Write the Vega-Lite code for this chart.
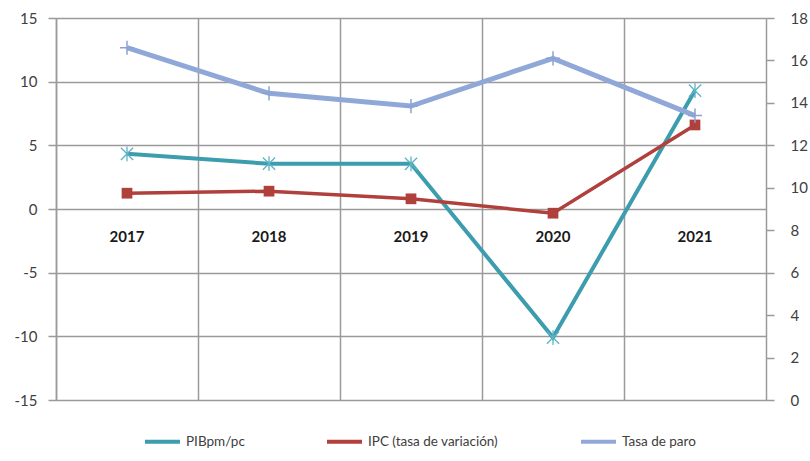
{
  "$schema": "https://vega.github.io/schema/vega-lite/v6.json",
  "width": 710,
  "height": 382,
  "autosize": "none",
  "padding": {"left": 56, "top": 18, "right": 44, "bottom": 61},
  "background": "white",
  "config": {
    "font": "Lato",
    "view": {"stroke": null},
    "axis": {
      "labelFont": "Lato",
      "labelFontSize": 15,
      "labelColor": "#404040",
      "domainColor": "#9a9a9a",
      "tickColor": "#9a9a9a",
      "gridColor": "#9a9a9a",
      "gridWidth": 1.5,
      "domainWidth": 1.5,
      "tickWidth": 1.5
    }
  },
  "data": {
    "values": [
      {"year": "2017", "serie": "PIBpm/pc", "value": 4.33},
      {"year": "2018", "serie": "PIBpm/pc", "value": 3.56},
      {"year": "2019", "serie": "PIBpm/pc", "value": 3.55},
      {"year": "2020", "serie": "PIBpm/pc", "value": -10.1},
      {"year": "2021", "serie": "PIBpm/pc", "value": 9.3},
      {"year": "2017", "serie": "IPC (tasa de variación)", "value": 1.24},
      {"year": "2018", "serie": "IPC (tasa de variación)", "value": 1.4},
      {"year": "2019", "serie": "IPC (tasa de variación)", "value": 0.8},
      {"year": "2020", "serie": "IPC (tasa de variación)", "value": -0.33},
      {"year": "2021", "serie": "IPC (tasa de variación)", "value": 6.6},
      {"year": "2017", "serie": "Tasa de paro", "value": 16.6},
      {"year": "2018", "serie": "Tasa de paro", "value": 14.45},
      {"year": "2019", "serie": "Tasa de paro", "value": 13.85},
      {"year": "2020", "serie": "Tasa de paro", "value": 16.1},
      {"year": "2021", "serie": "Tasa de paro", "value": 13.4}
    ]
  },
  "layer": [
    {
      "transform": [{"filter": "datum.serie !== 'Tasa de paro'"}],
      "encoding": {
        "x": {
          "field": "year",
          "type": "ordinal",
          "scale": {"type": "band", "paddingInner": 0, "paddingOuter": 0},
          "axis": {
            "orient": "bottom",
            "offset": -191,
            "domain": false,
            "ticks": false,
            "grid": false,
            "labelAngle": 0,
            "labelFontWeight": "bold",
            "labelColor": "#1a1a1a",
            "labelPadding": 20,
            "title": null
          }
        },
        "y": {
          "field": "value",
          "type": "quantitative",
          "scale": {"domain": [-15, 15], "nice": false, "zero": false},
          "axis": {
            "orient": "left",
            "values": [-15, -10, -5, 0, 5, 10, 15],
            "labelExpr": "'' + datum.value",
            "title": null,
            "grid": true,
            "tickSize": 8,
            "labelPadding": 11
          }
        }
      },
      "layer": [
        {
          "transform": [{"filter": "datum.serie === 'PIBpm/pc'"}],
          "mark": {"type": "line", "strokeWidth": 4},
          "encoding": {
            "color": {
              "field": "serie",
              "type": "nominal",
              "scale": {
                "domain": ["PIBpm/pc", "IPC (tasa de variación)", "Tasa de paro"],
                "range": ["#3C9DAE", "#B0403C", "#90A8D8"]
              },
              "legend": {
                "orient": "none",
                "legendX": 87,
                "legendY": 404,
                "direction": "horizontal",
                "title": null,
                "symbolType": "stroke",
                "symbolSize": 1225,
                "symbolStrokeWidth": 4,
                "labelFont": "Lato",
                "labelFontSize": 13.5,
                "labelColor": "#404040",
                "columnPadding": 74,
                "labelOffset": 4,
                "padding": 0
              }
            }
          }
        },
        {
          "transform": [{"filter": "datum.serie === 'IPC (tasa de variación)'"}],
          "mark": {"type": "line", "strokeWidth": 3.5},
          "encoding": {"color": {"field": "serie", "type": "nominal"}}
        },
        {
          "transform": [{"filter": "datum.serie === 'PIBpm/pc'"}],
          "mark": {
            "type": "point",
            "shape": "M-1,-1L1,1M-1,1L1,-1M0,-1.2L0,1.2",
            "size": 150,
            "filled": false,
            "strokeWidth": 1.3,
            "opacity": 1,
            "color": "#5DB3C4"
          }
        },
        {
          "transform": [{"filter": "datum.serie === 'IPC (tasa de variación)'"}],
          "mark": {
            "type": "point",
            "shape": "square",
            "size": 115,
            "filled": true,
            "opacity": 1,
            "color": "#B0403C"
          }
        }
      ]
    },
    {
      "transform": [{"filter": "datum.serie === 'Tasa de paro'"}],
      "encoding": {
        "x": {
          "field": "year",
          "type": "ordinal",
          "scale": {"type": "band", "paddingInner": 0, "paddingOuter": 0},
          "axis": {
            "orient": "bottom",
            "labels": false,
            "ticks": false,
            "domain": false,
            "grid": true,
            "bandPosition": 0,
            "title": null
          }
        },
        "y": {
          "field": "value",
          "type": "quantitative",
          "scale": {"domain": [0, 18], "nice": false, "zero": false},
          "axis": {
            "orient": "right",
            "values": [0, 2, 4, 6, 8, 10, 12, 14, 16, 18],
            "title": null,
            "grid": false,
            "tickSize": 8,
            "labelPadding": 16
          }
        }
      },
      "layer": [
        {
          "mark": {"type": "line", "strokeWidth": 5},
          "encoding": {"color": {"field": "serie", "type": "nominal"}}
        },
        {
          "mark": {
            "type": "point",
            "shape": "M-1,0H1M0,-1V1",
            "size": 200,
            "filled": false,
            "strokeWidth": 1.5,
            "opacity": 1,
            "color": "#8AA2D4"
          }
        }
      ]
    }
  ],
  "resolve": {
    "scale": {"y": "independent"},
    "axis": {"y": "independent", "x": "independent"}
  }
}
